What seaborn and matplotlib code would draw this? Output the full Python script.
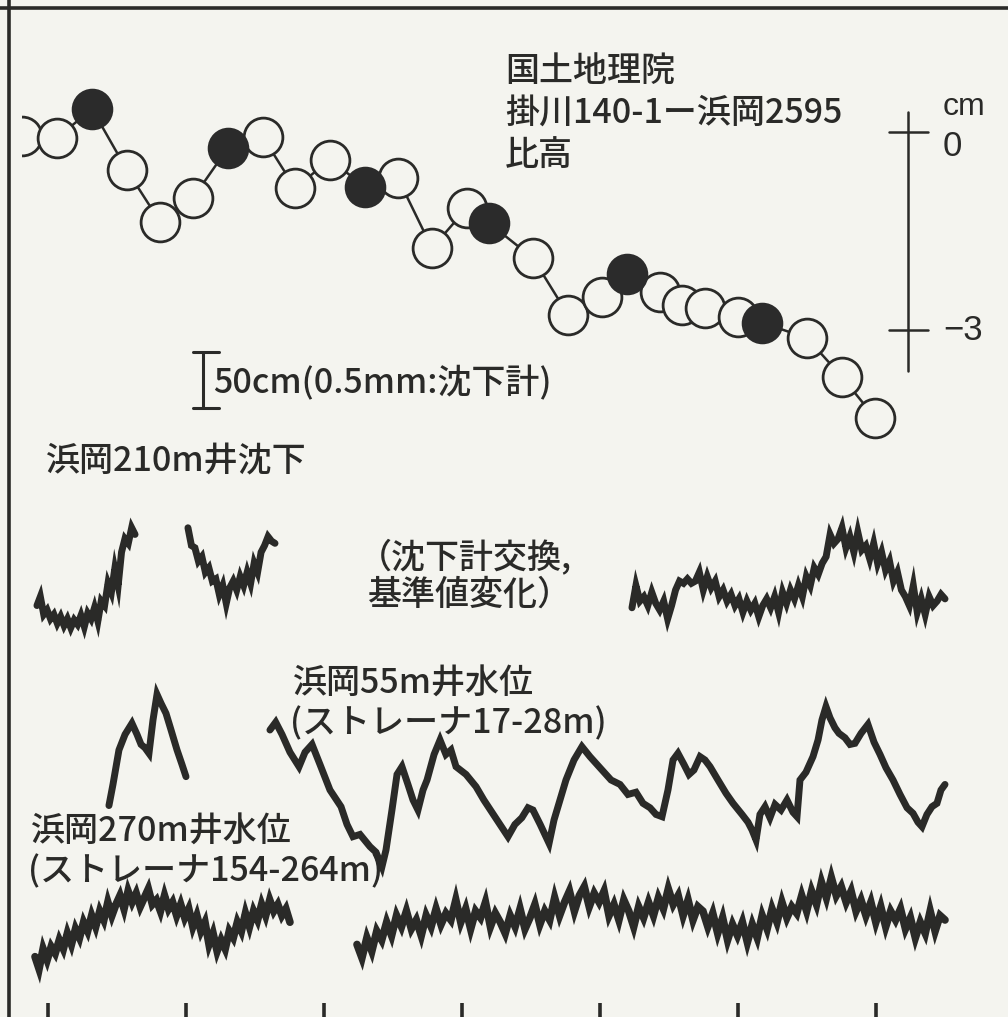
import numpy as np
import pandas as pd
import seaborn as sns
import matplotlib.pyplot as plt

# time axis: months from the first tick (ticks every 12 months)
tick_months = [0, 12, 24, 36, 48, 60, 72]

# GSI levelling, Kakegawa 140-1 - Hamaoka 2595, relative height (cm)
lev_month = [-2.26, 0.78, 3.83, 6.87, 9.74, 12.61, 15.65, 18.70, 21.48, 24.52,
             27.57, 30.43, 33.39, 36.43, 38.35, 42.17, 45.22, 48.17, 50.35, 53.22,
             55.13, 57.13, 60.00, 62.09, 66.00, 69.04, 71.91]
lev_cm = [-0.06, -0.09, 0.35, -0.58, -1.36, -1.00, -0.24, -0.08, -0.85, -0.42,
          -0.83, -0.70, -1.76, -1.15, -1.38, -1.91, -2.77, -2.50, -2.15, -2.42,
          -2.62, -2.67, -2.80, -2.89, -3.12, -3.71, -4.33]
lev_filled = [0, 0, 1, 0, 0, 0, 1, 0, 0, 0,
              1, 0, 0, 0, 1, 0, 0, 0, 1, 0,
              0, 0, 0, 1, 0, 0, 0]

# Hamaoka 210 m well subsidence (mm), three recorded pieces
sub1_span = (-0.96, 7.57)
sub1_mm = [0.22, 0.30, 0.14, 0.18, 0.10, 0.14, 0.06, 0.12, 0.04, 0.10,
           0.02, 0.09, 0.05, 0.13, 0.03, 0.15, 0.10, 0.20, 0.08, 0.26,
           0.22, 0.42, 0.34, 0.55, 0.40, 0.70, 0.82, 0.78, 0.92, 0.86]
sub2_span = (12.17, 19.74)
sub2_mm = [0.92, 0.76, 0.74, 0.62, 0.66, 0.52, 0.56, 0.44, 0.46, 0.32,
           0.40, 0.24, 0.38, 0.44, 0.36, 0.48, 0.40, 0.52, 0.42, 0.60,
           0.52, 0.70, 0.76, 0.84, 0.80, 0.78]
sub3_span = (50.78, 78.0)
sub3_mm = [0.20, 0.40, 0.26, 0.30, 0.22, 0.34, 0.24, 0.18, 0.26, 0.10,
           0.22, 0.36, 0.44, 0.42, 0.46, 0.42, 0.44, 0.52, 0.36, 0.48,
           0.38, 0.44, 0.30, 0.36, 0.26, 0.32, 0.22, 0.28, 0.16, 0.26,
           0.18, 0.24, 0.12, 0.22, 0.28, 0.20, 0.30, 0.16, 0.34, 0.24,
           0.36, 0.28, 0.40, 0.30, 0.48, 0.40, 0.56, 0.50, 0.60, 0.66,
           0.86, 0.78, 0.82, 0.92, 0.74, 0.84, 0.70, 0.88, 0.72, 0.76,
           0.64, 0.78, 0.60, 0.70, 0.54, 0.62, 0.44, 0.52, 0.36, 0.30,
           0.22, 0.40, 0.16, 0.28, 0.14, 0.30, 0.22, 0.26, 0.32, 0.28]

# Hamaoka 55 m well water level (cm)
w55a_month = [5.30, 5.65, 6.17, 6.70, 7.30, 7.74, 8.09, 8.43, 8.78, 9.13,
              9.48, 9.83, 10.26, 10.70, 11.22, 11.65, 12.00]
w55a_cm = [58, 77, 108, 122, 132, 122, 113, 110, 105, 135,
           158, 150, 141, 126, 108, 95, 84]
w55b_month = [19.30, 19.80, 20.35, 21.04, 21.83, 22.35, 22.96, 23.65, 24.52, 25.48,
              26.00, 26.52, 27.13, 28.00, 28.52, 29.04, 29.39, 29.91, 30.35, 30.78,
              31.30, 31.74, 32.17, 32.61, 32.96, 33.57, 34.09, 34.60, 35.04, 35.48,
              36.35, 37.22, 37.90, 38.60, 39.30, 40.00, 40.60, 41.20, 41.74, 42.17,
              42.80, 43.57, 44.00, 44.52, 45.04, 45.74, 46.43, 47.13, 48.00, 48.96,
              49.74, 50.43, 51.13, 51.74, 52.35, 52.87, 53.39, 53.91, 54.35, 54.78,
              55.30, 55.74, 56.17, 56.70, 57.13, 57.57, 58.26, 58.96, 59.57, 60.35,
              60.87, 61.22, 61.57, 61.91, 62.35, 62.78, 63.22, 63.74, 64.26, 64.78,
              65.13, 65.39, 65.91, 66.52, 66.96, 67.30, 67.65, 68.00, 68.43, 68.78,
              69.30, 69.74, 70.17, 70.70, 71.30, 71.83, 72.35, 72.87, 73.48, 74.09,
              74.70, 75.22, 75.65, 76.00, 76.43, 76.87, 77.30, 77.65, 78.00]
w55b_cm = [126, 133, 122, 106, 93, 106, 113, 95, 72, 57,
           41, 30, 32, 21, 16, 3, 18, 54, 86, 93,
           77, 63, 54, 72, 81, 104, 117, 104, 108, 93,
           86, 75, 63, 52, 41, 30, 41, 47, 56, 54,
           41, 24, 45, 63, 81, 99, 111, 102, 92, 81,
           77, 68, 70, 60, 56, 50, 48, 72, 99, 105,
           95, 86, 90, 102, 99, 93, 81, 69, 60, 50,
           43, 36, 27, 50, 57, 47, 59, 54, 63, 52,
           48, 81, 88, 102, 117, 135, 147, 137, 128, 123,
           119, 113, 114, 123, 131, 115, 104, 92, 81, 68,
           56, 51, 43, 39, 50, 57, 60, 72, 77]

# Hamaoka 270 m well water level (cm)
w270a_span = (-1.13, 21.04)
w270a_cm = [3, -8, 10, 0, 12, 6, 18, 10, 24, 14,
            28, 20, 34, 26, 40, 30, 44, 36, 52, 40,
            50, 58, 46, 62, 52, 60, 48, 56, 64, 50,
            54, 44, 58, 46, 52, 40, 50, 38, 46, 30,
            40, 26, 34, 14, 24, 8, 18, 10, 26, 20,
            34, 26, 42, 30, 44, 36, 50, 40, 54, 44,
            50, 40, 46, 34]
w270b_span = (26.87, 78.0)
w270b_cm = [14, 2, 20, 8, 26, 18, 34, 22, 40, 30,
            44, 28, 36, 22, 40, 30, 46, 32, 42, 36,
            54, 34, 46, 28, 44, 38, 52, 30, 42, 34,
            24, 40, 30, 46, 28, 38, 50, 32, 44, 36,
            56, 40, 52, 62, 44, 58, 66, 48, 60, 52,
            62, 40, 50, 36, 54, 44, 30, 48, 38, 52,
            40, 56, 46, 64, 50, 58, 40, 54, 36, 48,
            44, 30, 42, 24, 38, 18, 32, 22, 34, 16,
            32, 20, 40, 28, 46, 34, 52, 38, 48, 42,
            58, 44, 62, 50, 70, 56, 74, 58, 66, 52,
            62, 44, 54, 40, 52, 34, 48, 30, 44, 36,
            46, 28, 38, 20, 34, 24, 44, 26, 40, 36]

BG = '#f4f4ef'
INK = '#2a2a28'
PX_MONTH = 11.5          # pixels per month
CM_PX = 0.9              # trace axis: cm per pixel
MM_TO_CM = 100           # 0.5 mm of subsidence drawn like 50 cm

sns.set_style('white')
plt.rcParams['font.family'] = ['Noto Sans CJK JP', 'DejaVu Sans']

fig = plt.figure(figsize=(10.08, 10.17), dpi=100, facecolor=BG)
W, H = 1008, 1017

# traces axis over the whole figure
ax = fig.add_axes([0, 0, 1, 1])
ax.set_facecolor(BG)
ax.set_xlim(-48 / PX_MONTH, (W - 48) / PX_MONTH)
ax.set_ylim(0, H * CM_PX)
for s in ax.spines.values():
    s.set_visible(False)
ax.set_xticks(tick_months)
ax.tick_params(axis='x', direction='in', length=10, width=2.6, color=INK,
               labelbottom=False, bottom=True)
ax.set_yticks([])


def base(py):
    return (H - py) * CM_PX


def draw_trace(x, y, offset, lw):
    df = pd.DataFrame({'t': x, 'v': np.asarray(y, dtype=float) + offset})
    sns.lineplot(data=df, x='t', y='v', ax=ax, color=INK, lw=lw,
                 sort=False, estimator=None, solid_joinstyle='miter')


sub_off = base(630)
for span, vals in [(sub1_span, sub1_mm), (sub2_span, sub2_mm), (sub3_span, sub3_mm)]:
    t = np.linspace(span[0], span[1], len(vals))
    draw_trace(t, np.array(vals) * MM_TO_CM, sub_off, 5.0)

w55_off = base(870)
draw_trace(w55a_month, w55a_cm, w55_off, 5.0)
draw_trace(w55b_month, w55b_cm, w55_off, 5.0)

w270_off = base(960)
for span, vals in [(w270a_span, w270a_cm), (w270b_span, w270b_cm)]:
    t = np.linspace(span[0], span[1], len(vals))
    draw_trace(t, vals, w270_off, 5.5)

ax.set_xlabel('')
ax.set_ylabel('')

# 50 cm scale bar
bx = (203 - 48) / PX_MONTH
by0 = base(408)
ax.plot([bx, bx], [by0, by0 + 50], color=INK, lw=2.2)
for yy in (by0, by0 + 50):
    ax.plot([bx - 0.9, bx + 1.4], [yy, yy], color=INK, lw=2.2)

# frame of the scanned figure
ax.axvline((9 - 48) / PX_MONTH, color=INK, lw=2.6)
ax.axhline(base(8), color=INK, lw=2.6)

# levelling axis
ax_lev = fig.add_axes([22 / W, 0, (W - 22) / W, 1])
ax_lev.patch.set_alpha(0)
ax_lev.set_xlim((22 - 48) / PX_MONTH, (W - 48) / PX_MONTH)
ax_lev.set_ylim((132 - H) / 66, 132 / 66)
ax_lev.axis('off')

lev = pd.DataFrame({'t': lev_month, 'h': lev_cm, 'f': lev_filled})
sns.lineplot(data=lev, x='t', y='h', ax=ax_lev, color=INK, lw=1.8,
             sort=False, estimator=None, zorder=2)
sns.scatterplot(data=lev[lev.f == 0], x='t', y='h', ax=ax_lev, s=780,
                facecolor=BG, edgecolor=INK, linewidth=2.0, zorder=3)
sns.scatterplot(data=lev[lev.f == 1], x='t', y='h', ax=ax_lev, s=780,
                facecolor='#2b2b2b', edgecolor='#2b2b2b', linewidth=2.0, zorder=4)
ax_lev.set_xlabel('')
ax_lev.set_ylabel('')

# cm scale on the right
sx = (908 - 48) / PX_MONTH
ax_lev.plot([sx, sx], [0.30, -3.62], color=INK, lw=1.8)
for v in (0, -3):
    ax_lev.plot([sx - 1.65, sx + 1.75], [v, v], color=INK, lw=1.8)
lx = (943 - 48) / PX_MONTH
num_font = ['Liberation Sans', 'DejaVu Sans']
ax_lev.text(lx, 0.38, 'cm', fontsize=23, family=num_font, va='center', color=INK)
ax_lev.text(lx, -0.22, '0', fontsize=25, family=num_font, va='center', color=INK)
ax_lev.text(lx, -3.0, '\u22123', fontsize=25, family=num_font, va='center', color=INK)

# labels
labels = [
    (505, 72, '国土地理院'),
    (505, 113, '掛川140-1ー浜岡2595'),
    (505, 156, '比高'),
    (213, 384, '50cm(0.5mm:沈下計)'),
    (45, 462, '浜岡210m井沈下'),
    (358, 557, '（沈下計交換,'),
    (368, 595, '基準値変化）'),
    (292, 684, '浜岡55m井水位'),
    (290, 724, '(ストレーナ17-28m)'),
    (30, 832, '浜岡270m井水位'),
    (28, 872, '(ストレーナ154-264m)'),
]
for px, py, txt in labels:
    fig.text(px / W, 1 - py / H, txt, fontsize=24.5, fontweight='medium',
             va='center', ha='left', color=INK)

fig.savefig('out.png', dpi=100, facecolor=BG)
